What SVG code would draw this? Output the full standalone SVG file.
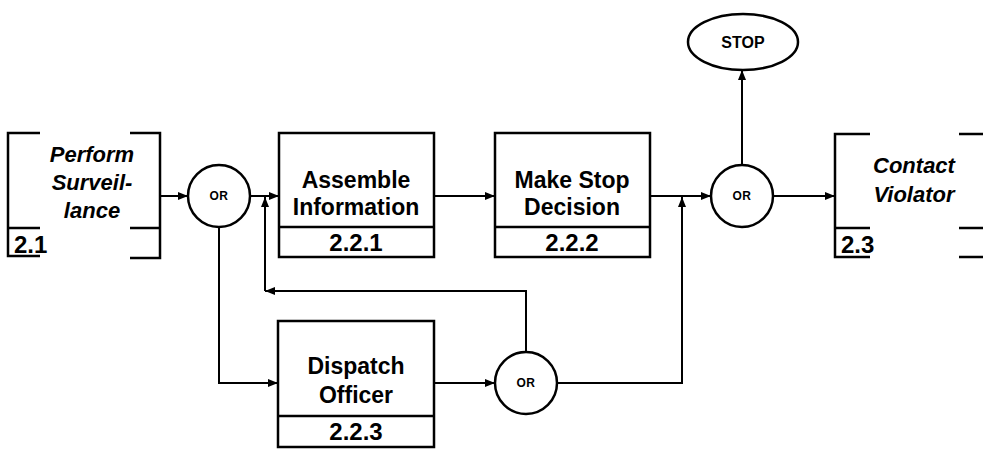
<svg xmlns="http://www.w3.org/2000/svg" width="983" height="449" viewBox="0 0 983 449">
  <style>
    .shape { fill: #fff; stroke: #000; stroke-width: 2.5; }
    .line { fill: none; stroke: #000; stroke-width: 2.5; }
    .wire { fill: none; stroke: #000; stroke-width: 2; }
    .t { font-family: "Liberation Sans", Arial, sans-serif; font-weight: bold; fill: #000; }
    .title { font-size: 23px; text-anchor: middle; }
    .ext { font-size: 22px; font-style: italic; text-anchor: middle; }
    .num { font-size: 24px; }
    .gate { font-size: 12px; text-anchor: middle; letter-spacing: 0.5px; }
    .term { font-size: 16px; text-anchor: middle; }
  </style>
  <defs>
    <marker id="arrow" viewBox="0 0 10 8" refX="10" refY="4" markerWidth="10" markerHeight="8" markerUnits="userSpaceOnUse" orient="auto">
      <path d="M0,0 L10,4 L0,8 z" fill="#000"/>
    </marker>
  </defs>

  <rect width="983" height="449" fill="#fff"/>

  <!-- connectors -->
  <g id="connectors" class="wire" marker-end="url(#arrow)">
    <path d="M160,196 H188"/>
    <path d="M251,196 H279"/>
    <path d="M434,196 H495"/>
    <path d="M650,196 H711"/>
    <path d="M773,196 H835"/>
    <path d="M742,165 V70"/>
    <path d="M219,227 V383 H278"/>
    <path d="M434,383 H495"/>
    <path d="M557,383 H682 V197"/>
    <path d="M526,352 V291 H265"/>
    <path d="M265,291 V197"/>
  </g>

  <!-- external function 2.1 -->
  <g id="perform-surveillance">
    <path class="line" d="M40,133 H8 V256 H40 M8,228 H40"/>
    <path class="line" d="M130,133 H160 V258 H130 M130,228 H160"/>
    <text class="t ext" x="92" y="162">Perform</text>
    <text class="t ext" x="92" y="190">Surveil-</text>
    <text class="t ext" x="92" y="218">lance</text>
    <text class="t num" x="14" y="253">2.1</text>
  </g>

  <!-- OR gate after 2.1 -->
  <g id="or-1">
    <circle class="shape" cx="219" cy="196" r="31"/>
    <text class="t gate" x="219" y="200">OR</text>
  </g>

  <g id="assemble-information">
    <rect class="shape" x="279" y="133" width="155" height="124"/>
    <path class="line" d="M279,227 H434"/>
    <text class="t title" x="356" y="188">Assemble</text>
    <text class="t title" x="356" y="215">Information</text>
    <text class="t num" x="356" y="251" text-anchor="middle">2.2.1</text>
  </g>

  <g id="make-stop-decision">
    <rect class="shape" x="495" y="133" width="155" height="124"/>
    <path class="line" d="M495,227 H650"/>
    <text class="t title" x="572" y="188">Make Stop</text>
    <text class="t title" x="572" y="215">Decision</text>
    <text class="t num" x="572" y="251" text-anchor="middle">2.2.2</text>
  </g>

  <g id="dispatch-officer">
    <rect class="shape" x="278" y="321" width="156" height="126"/>
    <path class="line" d="M278,416 H434"/>
    <text class="t title" x="356" y="374">Dispatch</text>
    <text class="t title" x="356" y="403">Officer</text>
    <text class="t num" x="356" y="440" text-anchor="middle">2.2.3</text>
  </g>

  <!-- OR gate after 2.2.3 -->
  <g id="or-2">
    <circle class="shape" cx="526" cy="383" r="31"/>
    <text class="t gate" x="526" y="387">OR</text>
  </g>

  <!-- OR gate after 2.2.2 -->
  <g id="or-3">
    <circle class="shape" cx="742" cy="196" r="31"/>
    <text class="t gate" x="742" y="200">OR</text>
  </g>

  <g id="stop">
    <ellipse class="shape" cx="743" cy="42" rx="55" ry="28"/>
    <text class="t term" x="743" y="48">STOP</text>
  </g>

  <!-- external function 2.3 -->
  <g id="contact-violator">
    <path class="line" d="M870,134 H835 V257 H870 M835,228 H870"/>
    <path class="line" d="M959,134 H983 M959,228 H983 M959,257 H983"/>
    <text class="t ext" x="914" y="173">Contact</text>
    <text class="t ext" x="914" y="202">Violator</text>
    <text class="t num" x="841" y="253">2.3</text>
  </g>
</svg>
